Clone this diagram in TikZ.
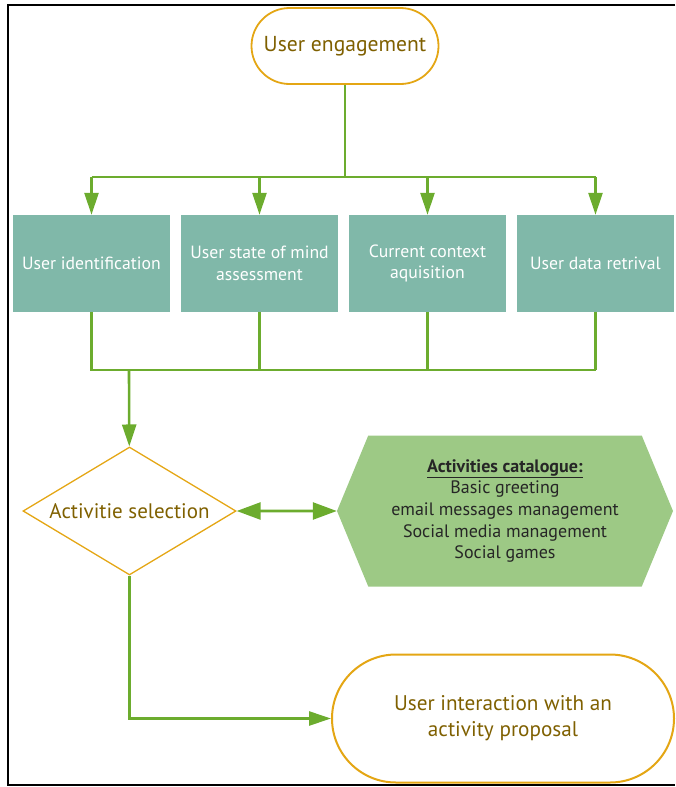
\documentclass[tikz,border=0pt]{standalone}
\usepackage{fontspec}
\setmainfont{PT Sans}
\usetikzlibrary{arrows.meta,shapes.geometric,shapes.symbols}
\definecolor{gold}{RGB}{228,166,20}
\definecolor{olive}{RGB}{127,96,0}
\definecolor{teal}{RGB}{128,184,169}
\definecolor{link}{RGB}{108,172,46}
\definecolor{leaf}{RGB}{157,201,133}
\definecolor{ink}{RGB}{38,38,38}

\begin{document}
\begin{tikzpicture}[x=1pt,y=-1pt,
		link/.style={draw=link,line width=2.6pt},
		tip/.style={-{Triangle[length=22pt,width=14pt]}},
		term/.style={draw=gold,line width=1.8pt,fill=white,text=olive,rounded corners=38pt,align=center},
		task/.style={fill=teal,text=white,minimum width=157pt,minimum height=97pt,align=center,inner sep=0pt,font=\fontsize{17.7}{21.7}\selectfont}]
		\useasboundingbox (0,0) rectangle (675,787);
		% frame
		\draw[line width=2pt] (675,5) -- (8,5) -- (8,785) -- (675,785);
		\node[term,minimum width=187pt,minimum height=76pt,font=\fontsize{21.6}{26}\selectfont] (engage) at (345,46) {User engagement};
		\node[task] (ident) at (91.5,263.5) {User identification};
		\node[task] (mind) at (259.5,263.5) {User state of mind\\assessment};
		\node[task] (context) at (427.5,263.5) {Current context\\aquisition};
		\node[task] (retr) at (595.5,263.5) {User data retrival};
		\coordinate (split) at (345,177);
		\coordinate (merge) at (129,370);
		%\draw[help lines] (0,0) grid[step=50] (675,787);
		\node[diamond,draw=gold,line width=1.3pt,text=olive,aspect=1.66,inner sep=0pt,minimum width=213pt,minimum height=128pt,font=\fontsize{21}{25}\selectfont] (select) at (129.5,511) {Activitie selection};
		\node[signal,signal to=west and east,signal pointer angle=135,fill=leaf,text=ink,minimum width=336pt,minimum height=151pt,inner sep=0pt,align=center,font=\fontsize{18}{21.7}\selectfont] (catalogue) at (505,511) {\textbf{\underline{Activities catalogue:}}\\Basic greeting\\email messages management\\Social media management\\Social games};
		\node[term,line width=2pt,minimum width=342pt,minimum height=128pt,rounded corners=64pt,font=\fontsize{21.2}{26}\selectfont] (inter) at (503,718.5) {User interaction with an\\activity proposal};
		% connectors
		\draw[link] (engage) -- (split);
		\draw[link] (split -| ident) -- (split -| retr);
		\foreach \t in {ident,mind,context,retr}
			\draw[link,tip] (split -| \t) -- (\t);
		\foreach \t in {ident,mind,context}
			\draw[link] (\t) |- (merge -| retr);
		\draw[link] (retr) -- (merge -| retr);
		\draw[link,tip] (merge) -- (select);
		\draw[link,{Triangle[length=24pt,width=17pt]}-{Triangle[length=24pt,width=17pt]}] (select) -- (catalogue);
		\draw[link,tip] (select) |- (inter);
	\end{tikzpicture}
\end{document}
